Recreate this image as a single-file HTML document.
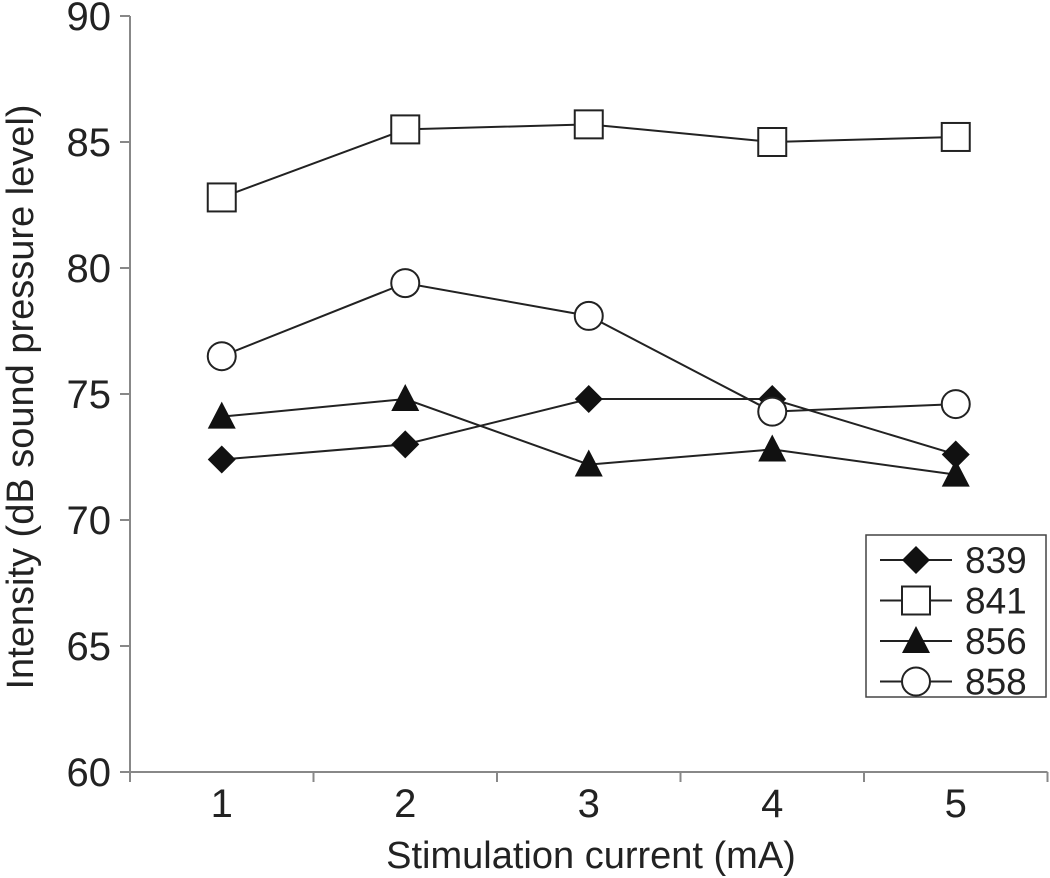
<!DOCTYPE html>
<html><head><meta charset="utf-8"><style>
body{margin:0;background:#fff}
svg{display:block;font-family:"Liberation Sans",sans-serif}
</style></head><body>
<svg id="chart" width="1050" height="878" viewBox="0 0 1050 878">
<g id="axes"></g>
<g id="series"></g>
<g id="legend"></g>
</svg>
<script>
const categories = [1, 2, 3, 4, 5];
const yTicks = [60, 65, 70, 75, 80, 85, 90];
const seriesNames = ["839", "841", "856", "858"];
const markers = ["diamond", "square", "triangle", "circle"];
const s839 = [72.4, 73.0, 74.8, 74.8, 72.6];
const s841 = [82.8, 85.5, 85.7, 85.0, 85.2];
const s856 = [74.1, 74.8, 72.2, 72.8, 71.8];
const s858 = [76.5, 79.4, 78.1, 74.3, 74.6];
const seriesValues = [s839, s841, s856, s858];

const NS = "http://www.w3.org/2000/svg";
const x0 = 130, step = 183.5, yBase = 772, yTop = 16;
const xs = i => x0 + step * (i + 0.5);
const ys = v => yBase - (v - 60) / 30 * (yBase - yTop);
function mk(tag, attrs, parent) {
  const e = document.createElementNS(NS, tag);
  for (const k in attrs) e.setAttribute(k, attrs[k]);
  parent.appendChild(e);
  return e;
}
const axes = document.getElementById("axes");
let ax = mk("line", {x1: x0, y1: yTop, x2: x0, y2: yBase, stroke: "#888", "stroke-width": 2}, axes);


let bx = mk("line", {x1: x0, y1: yBase, x2: x0 + step * categories.length, y2: yBase, stroke: "#888", "stroke-width": 2}, axes);


yTicks.forEach(t => {
  mk("line", {x1: x0 - 10, y1: ys(t), x2: x0, y2: ys(t), stroke: "#888", "stroke-width": 2}, axes);
  const tx = mk("text", {x: 111, y: ys(t) + 14, "text-anchor": "end", "font-size": 40, fill: "#222"}, axes);
  tx.textContent = t;
  
  
});
for (let i = 0; i <= categories.length; i++) {
  mk("line", {x1: x0 + step * i, y1: yBase, x2: x0 + step * i, y2: yBase + 10, stroke: "#888", "stroke-width": 2}, axes);
}
categories.forEach((c, i) => {
  const tx = mk("text", {x: xs(i), y: 817, "text-anchor": "middle", "font-size": 40, fill: "#222"}, axes);
  tx.textContent = c;
  
  
});
const xt = mk("text", {x: 591, y: 868, "text-anchor": "middle", "font-size": 38, fill: "#222"}, axes);
xt.textContent = "Stimulation current (mA)";


const yt = mk("text", {x: 0, y: 0, "text-anchor": "middle", "font-size": 38, fill: "#222", transform: "translate(33,397) rotate(-90)"}, axes);
yt.textContent = "Intensity (dB sound pressure level)";



function marker(type, x, y, parent) {
  let e;
  if (type === "diamond") e = mk("polygon", {points: `${x},${y-14} ${x+14},${y} ${x},${y+14} ${x-14},${y}`, fill: "#111"}, parent);
  else if (type === "square") e = mk("rect", {x: x-14, y: y-14, width: 28, height: 28, fill: "#fff", stroke: "#222", "stroke-width": 2}, parent);
  else if (type === "triangle") e = mk("polygon", {points: `${x},${y-15} ${x+14},${y+12} ${x-14},${y+12}`, fill: "#111"}, parent);
  else e = mk("circle", {cx: x, cy: y, r: 14, fill: "#fff", stroke: "#222", "stroke-width": 2}, parent);
  return e;
}
const sg = document.getElementById("series");
seriesValues.forEach((vals, si) => {
  const g = mk("g", {}, sg);
  
  
  const pl = mk("polyline", {points: vals.map((v, i) => xs(i) + "," + ys(v)).join(" "), fill: "none", stroke: "#222", "stroke-width": 2}, g);
  
  
  vals.forEach((v, i) => {
    const m = marker(markers[si], xs(i), ys(v), g);
    
    
  });
});
const lg = document.getElementById("legend");
const box = mk("rect", {x: 866, y: 535, width: 180, height: 162, fill: "#fff", stroke: "#444", "stroke-width": 1.5}, lg);


seriesNames.forEach((n, i) => {
  const y = 560 + i * 40.5;
  const g = mk("g", {}, lg);
  
  
  mk("line", {x1: 880, y1: y, x2: 952, y2: y, stroke: "#222", "stroke-width": 2}, g);
  marker(markers[i], 916, y, g);
  const t = mk("text", {x: 965, y: y + 13, "font-size": 37, fill: "#222"}, g);
  t.textContent = n;
});
</script>
</body></html>
